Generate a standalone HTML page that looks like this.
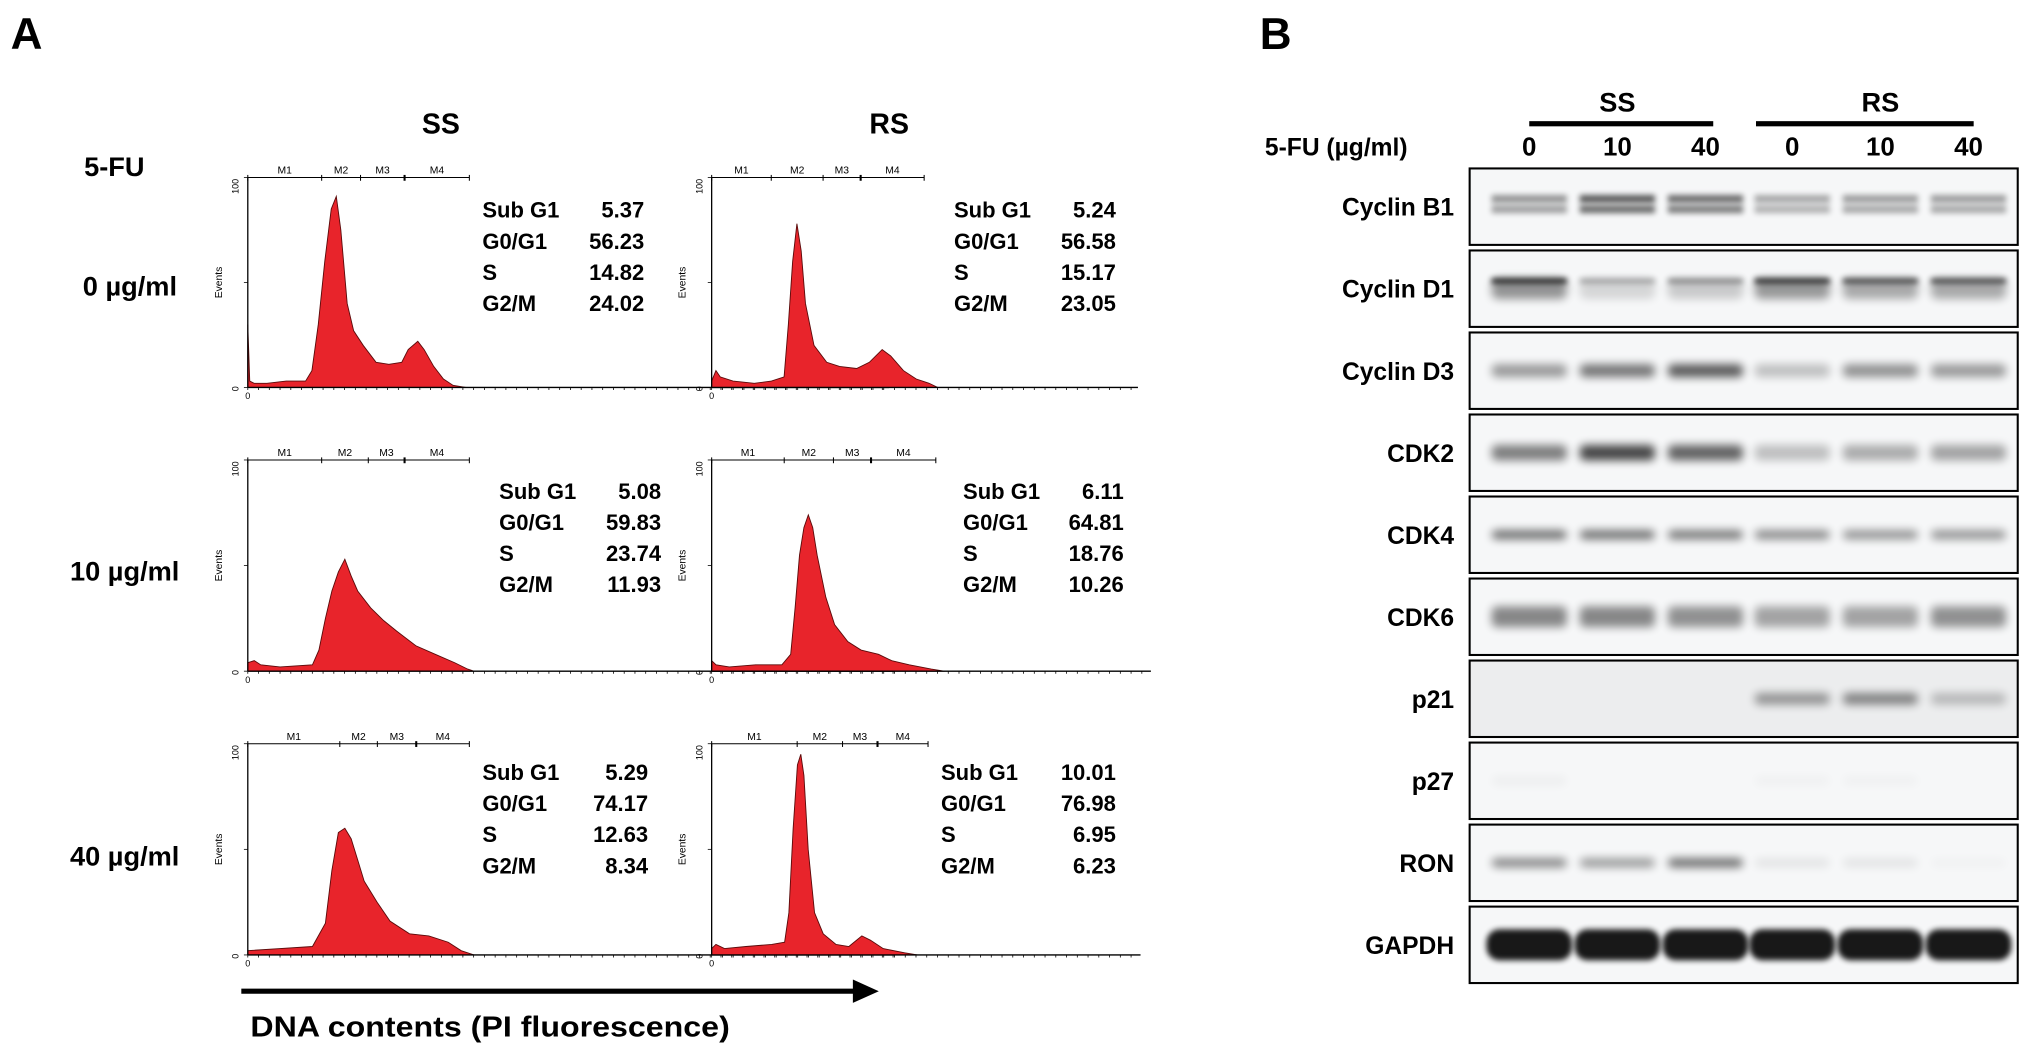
<!DOCTYPE html>
<html><head><meta charset="utf-8">
<style>
html,body{margin:0;padding:0;background:#fff;}
svg{display:block;}
text{font-family:"Liberation Sans",Arial,sans-serif;}
.b{font-weight:bold;}
</style></head>
<body>
<svg id="fig" width="2031" height="1056" viewBox="0 0 1567 815" xmlns="http://www.w3.org/2000/svg">
<defs>
<filter id="blur" x="-50%" y="-150%" width="200%" height="400%"><feGaussianBlur stdDeviation="3.5"/></filter>
<filter id="blur2" x="-50%" y="-150%" width="200%" height="400%"><feGaussianBlur stdDeviation="2.2"/></filter>
</defs>
<text class="b" x="8" y="38" font-size="34">A</text>
<text class="b" x="972" y="38" font-size="34">B</text>
<text class="b" x="340" y="103" font-size="22" text-anchor="middle">SS</text>
<text class="b" x="686" y="103" font-size="22" text-anchor="middle">RS</text>
<text class="b" x="88" y="136" font-size="21" text-anchor="middle">5-FU</text>
<text class="b" x="100" y="228" font-size="21" text-anchor="middle">0 µg/ml</text>
<text class="b" x="96" y="448" font-size="21" text-anchor="middle">10 µg/ml</text>
<text class="b" x="96" y="668" font-size="21" text-anchor="middle">40 µg/ml</text>
<g id="hists"></g>
<line x1="186" y1="765" x2="660" y2="765" stroke="#000" stroke-width="4"/>
<polygon points="658,756 678,765 658,774" fill="#000"/>
<text class="b" x="193" y="800" font-size="22" textLength="370" lengthAdjust="spacingAndGlyphs">DNA contents (PI fluorescence)</text>
<g id="blot"></g>
</svg>
<script>
// ---------- Flow cytometry data ----------
const panelNames = ['ss-0','rs-0','ss-10','rs-10','ss-40','rs-40'];
const histX_ss0 = [0,0.3,1,3,6,9,10,11,12,13,13.8,14.5,15.5,16.5,18,20,22,24,25,26.5,27.5,29,30.5,32,34];
const histY_ss0 = [30,3,2,2,3,3,8,30,60,85,91,75,40,27,20,12,11,12,18,22,18,10,4,1,0];
const histX_rs0 = [0,1,2,5,10,14,17,18,19,20,21,22,24,27,30,34,37,40,42,45,48,51,53];
const histY_rs0 = [3,8,5,3,2,3,5,30,60,78,65,40,20,12,10,9,12,18,15,8,4,2,0];
const histX_ss10 = [0,1,2,5,10,11,12,13,14,15,16,17,19,21,23,26,29,32,34,35];
const histY_ss10 = [4,5,3,2,3,10,25,38,47,53,45,38,30,24,19,12,8,4,1,0];
const histX_rs10 = [0,1,4,10,16,18,19,20,21,22,23,24,26,28,31,34,38,41,45,50,53];
const histY_rs10 = [5,3,2,3,3,8,30,55,68,74,68,55,35,22,14,10,8,5,3,1,0];
const histX_ss40 = [0,5,10,12,13,14,15,16,17,18,20,22,25,28,31,33,35];
const histY_ss40 = [2,3,4,15,40,58,60,55,45,35,25,16,10,9,6,2,0];
const histX_rs40 = [0,1,3,8,14,17,18,19,20,20.8,21.5,22.5,24,26,29,32,35,37,40,45,48];
const histY_rs40 = [3,5,3,4,5,6,20,60,90,95,85,50,20,10,5,4,9,7,3,1,0];
const statLabels = ['Sub G1','G0/G1','S','G2/M'];
const stat_ss0 = ['5.37','56.23','14.82','24.02'];
const stat_rs0 = ['5.24','56.58','15.17','23.05'];
const stat_ss10 = ['5.08','59.83','23.74','11.93'];
const stat_rs10 = ['6.11','64.81','18.76','10.26'];
const stat_ss40 = ['5.29','74.17','12.63','8.34'];
const stat_rs40 = ['10.01','76.98','6.95','6.23'];
const histXs=[histX_ss0,histX_rs0,histX_ss10,histX_rs10,histX_ss40,histX_rs40];
const histYs=[histY_ss0,histY_rs0,histY_ss10,histY_rs10,histY_ss40,histY_rs40];
const stats=[stat_ss0,stat_rs0,stat_ss10,stat_rs10,stat_ss40,stat_rs40];
const L=[
 {x0:191,x1:686,top:137,bot:299,mk:[191,248,278,312,362],sl:372,sr:497,sy:168},
 {x0:549,x1:878,top:137,bot:299,mk:[549,595,635,664,713],sl:736,sr:861,sy:168},
 {x0:191,x1:690,top:355,bot:518,mk:[191,248,284,312,362],sl:385,sr:510,sy:385},
 {x0:549,x1:888,top:355,bot:518,mk:[549,605,643,672,722],sl:743,sr:867,sy:385},
 {x0:191,x1:690,top:574,bot:737,mk:[191,262,291,321,362],sl:372,sr:500,sy:602},
 {x0:549,x1:880,top:574,bot:737,mk:[549,615,650,677,716],sl:726,sr:861,sy:602}
];
const NS='http://www.w3.org/2000/svg';
function mk(tag,attrs,parent){const e=document.createElementNS(NS,tag);for(const k in attrs)e.setAttribute(k,attrs[k]);parent.appendChild(e);return e;}
const hg=document.getElementById('hists');
panelNames.forEach((nm,i)=>{
  const p=L[i];
  const g=mk('g',{},hg);
  
  
  const xs=x=>p.x0+(x/100)*(p.x1-p.x0);
  const ys=y=>p.bot-(y/100)*(p.bot-p.top);
  let d='M'+xs(0)+','+p.bot;
  histXs[i].forEach((x,j)=>{d+=' L'+xs(x).toFixed(1)+','+ys(histYs[i][j]).toFixed(1);});
  d+=' L'+xs(histXs[i][histXs[i].length-1])+','+p.bot+' Z';
  const area=mk('path',{d:d,fill:'#e8242b',stroke:'#5a0a0a','stroke-width':0.7},g);
  
  
  mk('line',{x1:p.x0,y1:p.top,x2:p.x0,y2:p.bot,stroke:'#000','stroke-width':1},g);
  mk('line',{x1:p.x0,y1:p.bot,x2:p.x1,y2:p.bot,stroke:'#000','stroke-width':1},g);
  for(let x=p.x0;x<=p.x1;x+=8.3){mk('line',{x1:x,y1:p.bot,x2:x,y2:p.bot+2,stroke:'#000','stroke-width':0.6},g);}
  [0,0.5,1].forEach(f=>{const y=p.top+f*(p.bot-p.top);mk('line',{x1:p.x0-3,y1:y,x2:p.x0,y2:y,stroke:'#000','stroke-width':0.6},g);});
  const t100=mk('text',{x:p.x0-7,y:p.top+1,'font-size':7,transform:`rotate(-90 ${p.x0-7} ${p.top+1})`,'text-anchor':'end'},g);t100.textContent='100';
  const t0=mk('text',{x:p.x0-7,y:p.bot+1,'font-size':7,transform:`rotate(-90 ${p.x0-7} ${p.bot+1})`,'text-anchor':'middle'},g);t0.textContent='0';
  const tz=mk('text',{x:p.x0,y:p.bot+9,'font-size':7,'text-anchor':'middle'},g);tz.textContent='0';
  const ym=(p.top+p.bot)/2;
  const ev=mk('text',{x:p.x0-20,y:ym,'font-size':8,transform:`rotate(-90 ${p.x0-20} ${ym})`,'text-anchor':'middle'},g);ev.textContent='Events';
  
  
  const m=p.mk, my=p.top;
  mk('line',{x1:m[0],y1:my,x2:m[4],y2:my,stroke:'#000','stroke-width':0.8},g);
  m.forEach((x,k)=>mk('line',{x1:x,y1:my-2,x2:x,y2:my+2.5,stroke:'#000','stroke-width':k===3?1.6:0.8},g));
  ['M1','M2','M3','M4'].forEach((t,k)=>{const tx=mk('text',{x:(m[k]+m[k+1])/2,y:my-3,'font-size':8,'text-anchor':'middle'},g);tx.textContent=t;});
  statLabels.forEach((lab,k)=>{
    const y=p.sy+k*24;
    const a=mk('text',{x:p.sl,y:y,'font-size':17,'font-weight':'bold'},g);a.textContent=lab;
    const b=mk('text',{x:p.sr,y:y,'font-size':17,'font-weight':'bold','text-anchor':'end'},g);b.textContent=stats[i][k];
  });
});

// ---------- Western blot data ----------
const proteins=['Cyclin B1','Cyclin D1','Cyclin D3','CDK2','CDK4','CDK6','p21','p27','RON','GAPDH'];
const laneLabels=['0','10','40','0','10','40'];
const int_cyclinB1=[0.5,0.8,0.7,0.4,0.45,0.45];
const int_cyclinD1=[0.9,0.3,0.4,0.85,0.7,0.7];
const int_cyclinD3=[0.5,0.7,0.85,0.3,0.55,0.5];
const int_cdk2=[0.65,0.95,0.8,0.3,0.4,0.45];
const int_cdk4=[0.75,0.75,0.7,0.6,0.55,0.55];
const int_cdk6=[0.6,0.6,0.55,0.45,0.45,0.55];
const int_p21=[0,0,0,0.5,0.6,0.3];
const int_p27=[0.04,0,0,0.03,0.03,0];
const int_ron=[0.6,0.5,0.75,0.1,0.1,0.03];
const int_gapdh=[1,1,1,1,1,1];
const intensities=[int_cyclinB1,int_cyclinD1,int_cyclinD3,int_cdk2,int_cdk4,int_cdk6,int_p21,int_p27,int_ron,int_gapdh];
const bg=document.getElementById('blot');
const bx0=1134,bx1=1557,by0=130,bh=59,bstep=63.3;
const laneX=[1180,1248,1316,1383,1451,1519];
const bandH=[10,16,10,12,7,16,9,8,7,24];
const ss=mk('text',{x:1248,y:86,'font-size':21,'font-weight':'bold','text-anchor':'middle'},bg);ss.textContent='SS';


const rs=mk('text',{x:1451,y:86,'font-size':21,'font-weight':'bold','text-anchor':'middle'},bg);rs.textContent='RS';


mk('rect',{x:1180,y:93.5,width:142,height:4,fill:'#000'},bg);
mk('rect',{x:1355,y:93.5,width:168,height:4,fill:'#000'},bg);
const fu=mk('text',{x:976,y:120,'font-size':19,'font-weight':'bold'},bg);fu.textContent='5-FU (µg/ml)';


laneLabels.forEach((t,k)=>{const e=mk('text',{x:laneX[k],y:120,'font-size':20,'font-weight':'bold','text-anchor':'middle'},bg);e.textContent=t;
  
  });
proteins.forEach((pn,r)=>{
  const y=by0+r*bstep;
  const g=mk('g',{},bg);
  
  
  const lab=mk('text',{x:1122,y:y+bh/2+7,'font-size':19,'font-weight':'bold','text-anchor':'end'},g);lab.textContent=pn;
  mk('rect',{x:bx0,y:y,width:bx1-bx0,height:bh,fill:r===6?'#ecedee':'#f6f7f8'},g);
  const cy=y+bh/2;
  intensities[r].forEach((v,k)=>{
    if(v<=0)return;
    const w=r===9?66:58, h=bandH[r];
    if(r===0){
      mk('rect',{x:laneX[k]-w/2,y:cy-9,width:w,height:6,fill:'#000',opacity:v*0.8,filter:'url(#blur2)'},g);
      mk('rect',{x:laneX[k]-w/2,y:cy-1,width:w,height:6,fill:'#000',opacity:v*0.7,filter:'url(#blur2)'},g);
    } else if(r===1){
      mk('rect',{x:laneX[k]-w/2,y:cy-8,width:w,height:h,fill:'#000',opacity:v*0.45,filter:'url(#blur)',rx:5},g);
      mk('rect',{x:laneX[k]-w/2,y:cy-8,width:w,height:4,fill:'#000',opacity:v*0.9,filter:'url(#blur2)'},g);
    } else if(r===9){
      mk('rect',{x:laneX[k]-w/2,y:cy-h/2,width:w,height:h,fill:'#000',opacity:0.9,rx:10,filter:'url(#blur2)'},g);
    } else {
      mk('rect',{x:laneX[k]-w/2,y:cy-h/2,width:w,height:h,fill:'#000',opacity:v*0.75,rx:4,filter:'url(#blur)'},g);
    }
  });
  mk('rect',{x:bx0,y:y,width:bx1-bx0,height:bh,fill:'none',stroke:'#000','stroke-width':1.6},g);
});
</script>
</body></html>
